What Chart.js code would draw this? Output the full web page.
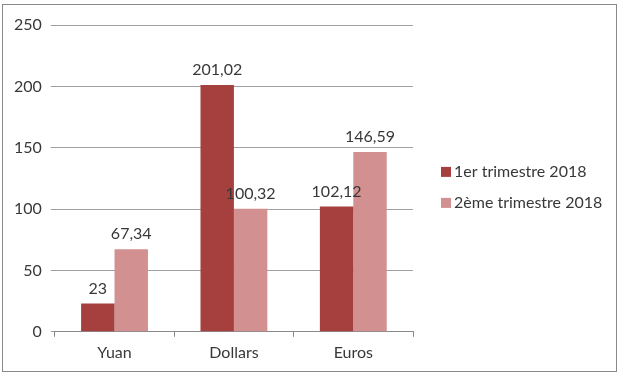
<!DOCTYPE html>
<html>
<head>
<meta charset="utf-8">
<script src="https://cdn.jsdelivr.net/npm/chart.js@4/dist/chart.umd.min.js"></script>
<style>
  html, body { margin: 0; padding: 0; background: #fff; }
  #wrap { position: relative; width: 620px; height: 379px; }
  #frame { position: absolute; left: 2px; top: 4px; width: 613px; height: 366px; border: 1px solid #8a8a8a; pointer-events: none; }
  canvas { position: absolute; left: 0; top: 0; }
</style>
</head>
<body>
<div id="wrap">
  <canvas id="chart" width="620" height="379"></canvas>
  <div id="frame"></div>
</div>
<script>
const categories = ["Yuan", "Dollars", "Euros"];
const seriesNames = ["1er trimestre 2018", "2ème trimestre 2018"];
const trimestre1 = [23, 201.02, 102.12];
const trimestre2 = [67.34, 100.32, 146.59];

const FONT = "Lato, 'Open Sans', sans-serif";
const TEXT = "#383838";

function formatValue(v) {
  return String(v).replace(".", ",");
}

// value above each bar
const valueLabels = {
  id: "valueLabels",
  afterDatasetsDraw(chart) {
    const ctx = chart.ctx;
    ctx.save();
    ctx.font = `16px ${FONT}`;
    ctx.fillStyle = TEXT;
    ctx.textAlign = "center";
    ctx.textBaseline = "bottom";
    chart.data.datasets.forEach((ds, i) => {
      chart.getDatasetMeta(i).data.forEach((bar, j) => {
        ctx.fillText(formatValue(ds.data[j]), bar.x, bar.y - 7);
      });
    });
    ctx.restore();
  }
};

// legend drawn to the right of the plot
const sideLegend = {
  id: "sideLegend",
  afterDraw(chart) {
    const ctx = chart.ctx;
    const area = chart.chartArea;
    const x = area.right + 28;
    const rowGap = 31;
    const midY = (area.top + area.bottom) / 2 + 9;
    const startY = midY - rowGap / 2;
    ctx.save();
    ctx.font = `16px ${FONT}`;
    ctx.textBaseline = "middle";
    ctx.textAlign = "left";
    chart.data.datasets.forEach((ds, i) => {
      const y = startY + i * rowGap;
      ctx.fillStyle = ds.backgroundColor;
      ctx.fillRect(x, y - 5, 10, 10);
      ctx.fillStyle = TEXT;
      ctx.fillText(ds.label, x + 13, y);
    });
    ctx.restore();
  }
};

new Chart(document.getElementById("chart"), {
  type: "bar",
  data: {
    labels: categories,
    datasets: [
      { label: seriesNames[0], data: trimestre1, backgroundColor: "#a5403f" },
      { label: seriesNames[1], data: trimestre2, backgroundColor: "#d39090" }
    ]
  },
  options: {
    responsive: false,
    animation: false,
    layout: { padding: { left: 5, right: 207, top: 25, bottom: 11 } },
    datasets: { bar: { categoryPercentage: 0.56, barPercentage: 1 } },
    plugins: {
      legend: { display: false },
      tooltip: { enabled: false }
    },
    scales: {
      x: {
        grid: {
          offset: true,
          drawOnChartArea: false,
          drawTicks: true,
          tickLength: 5,
          color: "#8a8a8a"
        },
        border: { display: true, color: "#8a8a8a" },
        ticks: { color: TEXT, font: { family: FONT, size: 16 }, padding: 6 }
      },
      y: {
        min: 0,
        max: 250,
        ticks: { stepSize: 50, color: TEXT, font: { family: FONT, size: 16 }, padding: 9 },
        grid: { color: "#a0a0a0", tickLength: 4 },
        border: { display: false }
      }
    }
  },
  plugins: [valueLabels, sideLegend]
});
</script>
</body>
</html>
